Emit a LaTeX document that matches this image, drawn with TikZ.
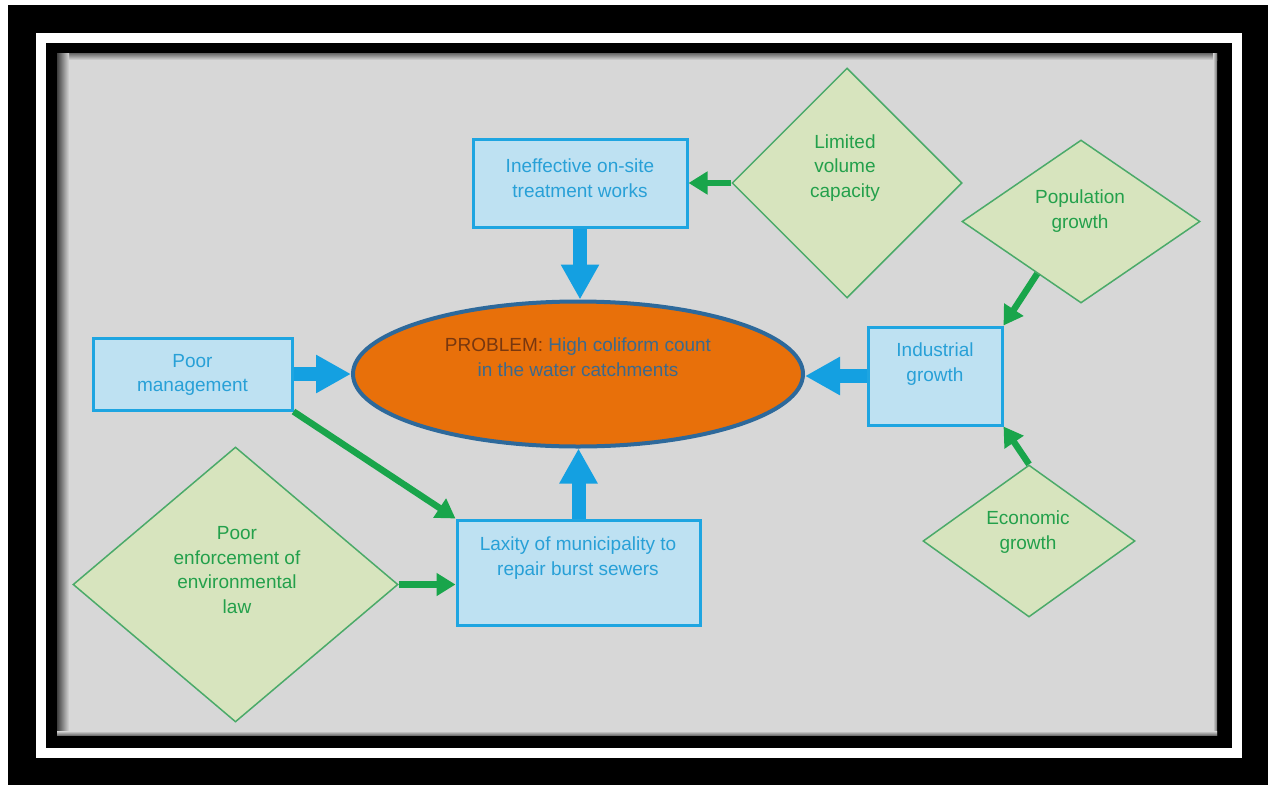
\documentclass[tikz,border=0pt]{standalone}
\usepackage{fontspec}
\setmainfont{Liberation Sans}
\usetikzlibrary{arrows.meta,shapes.geometric}
\definecolor{panel}{RGB}{215,215,215}
\definecolor{boxfill}{RGB}{190,225,242}
\definecolor{boxdraw}{RGB}{30,165,225}
\definecolor{boxtext}{RGB}{40,160,215}
\definecolor{arrowblue}{RGB}{20,160,225}
\definecolor{ellfill}{RGB}{232,112,10}
\definecolor{ellborder}{RGB}{45,105,155}
\definecolor{probc}{RGB}{120,55,15}
\definecolor{elltext}{RGB}{60,105,140}
\definecolor{dfill}{RGB}{215,228,190}
\definecolor{ddraw}{RGB}{75,170,105}
\definecolor{dtext}{RGB}{35,160,75}
\definecolor{arrowgreen}{RGB}{25,165,75}
\begin{document}
\begin{tikzpicture}[x=1pt,y=-1pt,
  cbox/.style={draw=boxdraw, fill=boxfill, line width=3pt, inner sep=0pt},
  cdiam/.style={shape=diamond, draw=ddraw, fill=dfill, line width=1.5pt, inner sep=0pt},
  txt/.style={align=center, font=\fontsize{19}{24.5}\selectfont, inner sep=0pt},
  btxt/.style={txt, text=boxtext},
  dtxt/.style={txt, text=dtext},
  bluearr/.style={draw=arrowblue, line width=14pt, -{Triangle[width=36pt,length=35pt]}},
  greenarr/.style={draw=arrowgreen, line width=6.5pt, -{Triangle[width=22pt,length=19pt]}}
]
\useasboundingbox (0,0) rectangle (1268,785);
% frame
\fill[white] (0,0) rectangle (1268,785);
\fill[black] (8,5) rectangle (1268,785);
\fill[white] (36,33) rectangle (1242,758);
\fill[black] (46,43) rectangle (1232,748);
\fill[panel] (57,53) rectangle (1217,735);
\shade[top color=black!60, bottom color=panel] (57,53) rectangle (1217,60);
\shade[left color=black!75, right color=panel] (57,53) rectangle (69,735);
\shade[left color=panel, right color=black!55] (1213,53) rectangle (1217,735);
\shade[top color=panel, bottom color=black!55] (57,731) rectangle (1217,735);

% central problem
\node[shape=ellipse, draw=ellborder, fill=ellfill, line width=4pt, inner sep=0pt,
      minimum width=450pt, minimum height=145pt] (ell) at (578,374) {};
\node[txt, text=elltext] (ellt) at (578,357) {{\color{probc}PROBLEM:} High coliform count\\in the water catchments};

% boxes
\node[cbox, minimum width=214pt, minimum height=88pt] (ine) at (580,183) {};
\node[btxt] (inet) at (580,178) {Ineffective on-site\\treatment works};
\node[cbox, minimum width=199pt, minimum height=72pt] (pm) at (192.5,374) {};
\node[btxt] (pmt) at (192.5,375) {Poor\\management};
\node[cbox, minimum width=243pt, minimum height=105pt] (lax) at (578.5,572.5) {};
\node[btxt] (laxt) at (578,558) {Laxity of municipality to\\repair burst sewers};
\node[cbox, minimum width=134pt, minimum height=98pt] (ind) at (935,376) {};
\node[btxt] (indt) at (935,364) {Industrial\\growth};

% diamonds
\node[cdiam, minimum width=230pt, minimum height=230pt] (lim) at (847,183) {};
\node[dtxt] (limt) at (845,168) {Limited\\volume\\capacity};
\node[cdiam, minimum width=238pt, minimum height=163pt] (pop) at (1081,221.5) {};
\node[dtxt] (popt) at (1080,211) {Population\\growth};
\node[cdiam, minimum width=212pt, minimum height=152pt] (eco) at (1029,541) {};
\node[dtxt] (ecot) at (1028,532) {Economic\\growth};
\node[cdiam, minimum width=325pt, minimum height=275pt] (enf) at (235.5,584.5) {};
\node[dtxt] (enft) at (237,570) {Poor\\enforcement of\\environmental\\law};

% blue arrows
\draw[bluearr] (ine.south) -- (ine.south |- ell.north);
\draw[bluearr] (lax.north) -- (lax.north |- ell.south);
\draw[bluearr] (pm.east) -- (pm.east -| ell.west);
\draw[bluearr] (ind.west) -- (ind.west -| ell.east);

% green arrows
\draw[greenarr] (lim.west) -- (ine.east);
\draw[greenarr] (enf.east) -- (enf.east -| lax.west);
\draw[greenarr] (pm.south east) -- (lax.north west);
\draw[greenarr] (pop.230) -- (ind.north east);
\draw[greenarr] (eco.north) -- (ind.south east);
\end{tikzpicture}
\end{document}
